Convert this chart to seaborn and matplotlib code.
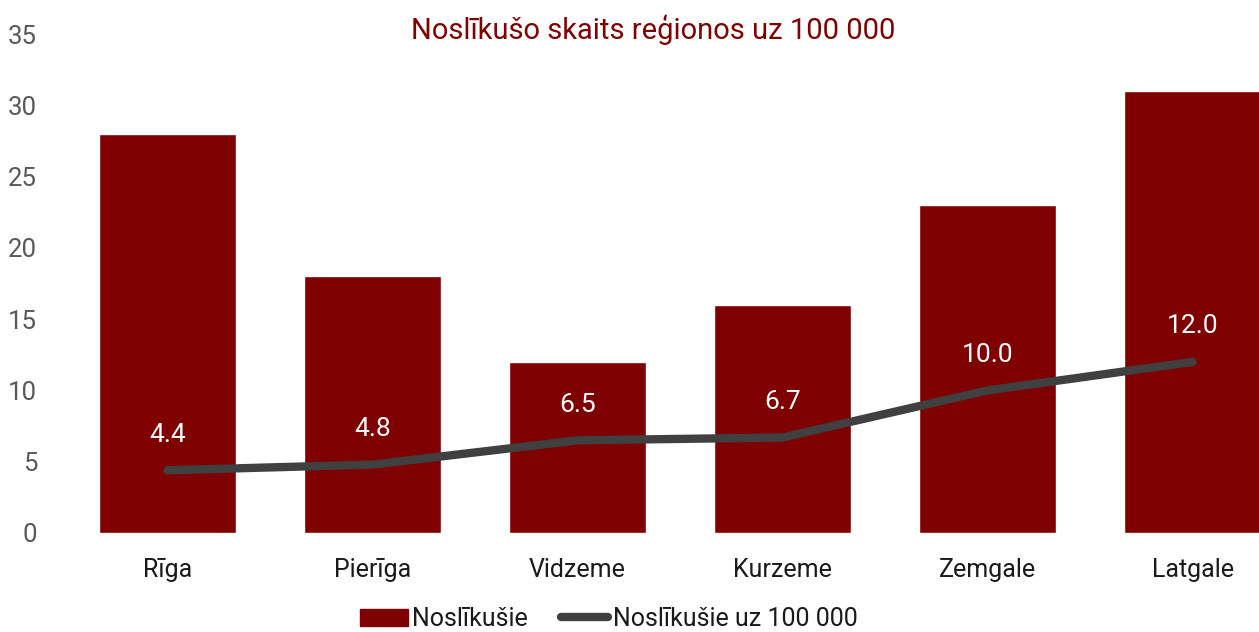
import matplotlib
matplotlib.use("Agg")
import matplotlib.pyplot as plt
import seaborn as sns
import pandas as pd
from matplotlib.patches import Patch
from matplotlib.lines import Line2D

regions = ["Rīga", "Pierīga", "Vidzeme", "Kurzeme", "Zemgale", "Latgale"]
drowned = [28, 18, 12, 16, 23, 31]
per_100k = [4.4, 4.8, 6.5, 6.7, 10.0, 12.0]
y_ticks = [0, 5, 10, 15, 20, 25, 30, 35]

title = "Noslīkušo skaits reģionos uz 100 000"
bar_label = "Noslīkušie"
line_label = "Noslīkušie uz 100 000"

sns.set_theme(style="white")
plt.rcParams['font.family'] = ['Roboto', 'DejaVu Sans']

df = pd.DataFrame({"region": regions, "drowned": drowned, "per_100k": per_100k})

W, H = 1259, 632
fig = plt.figure(figsize=(W / 100, H / 100), dpi=100)
left_px, right_px, bottom_px, top_px = 65, 1259, 533, 34
ax = fig.add_axes([left_px / W, (H - bottom_px) / H, (right_px - left_px) / W, (bottom_px - top_px) / H])

bar_color = "#7f0000"
line_color = "#404040"

sns.barplot(data=df, x="region", y="drowned", color=bar_color, width=0.667,
            saturation=1, ax=ax, order=regions)
sns.lineplot(x=list(range(len(regions))), y=df["per_100k"], color=line_color,
             linewidth=6, ax=ax, solid_capstyle="round", solid_joinstyle="round")

for i, v in enumerate(per_100k):
    ax.annotate(f"{v:.1f}", (i, v), xytext=(0, 17), textcoords="offset points",
                ha="center", va="bottom", color="white", fontsize=19)

ax.set_ylim(0, 35)
ax.set_xlim(-0.5, 5.5 - (1295 - 1259) / 205)
ax.set_yticks(y_ticks)
ax.set_yticklabels([str(t) for t in y_ticks])
ax.tick_params(axis="y", length=0, pad=20, labelsize=18.5, labelcolor="#595959")
ax.tick_params(axis="x", length=0, pad=18, labelsize=18, labelcolor="#1a1a1a")
ax.set_xlabel("")
ax.set_ylabel("")
for s in ax.spines.values():
    s.set_visible(False)
ax.grid(False)

fig.text(653 / W, (H - 30) / H, title, ha="center", va="center", fontsize=21, color="#800000")

handles = [Patch(facecolor=bar_color, edgecolor=bar_color),
           Line2D([0], [0], color=line_color, linewidth=6, solid_capstyle="round")]
fig.legend(handles, [bar_label, line_label], loc="center", bbox_to_anchor=(609 / W, (H - 619) / H),
           ncol=2, frameon=False, fontsize=18, handlelength=1.9, handletextpad=0.2,
           columnspacing=1.3, labelcolor="#1a1a1a")

fig.savefig("out.png", dpi=100)
